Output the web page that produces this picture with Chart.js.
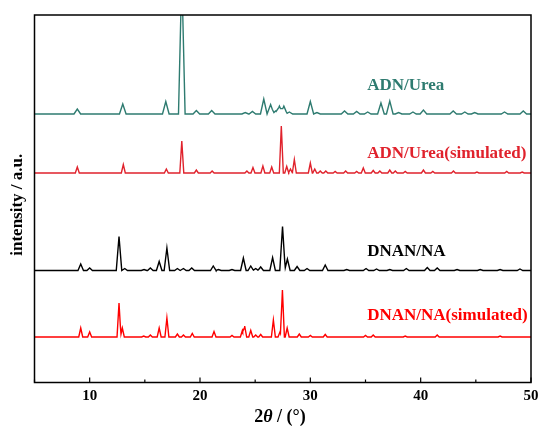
<!DOCTYPE html>
<html>
<head>
<meta charset="utf-8">
<script src="https://cdn.jsdelivr.net/npm/chart.js@4.4.0/dist/chart.umd.min.js"></script>
<style>
  html, body { margin: 0; background: #fff; }
  #wrap { width: 539px; height: 426px; }
</style>
</head>
<body>
<div id="wrap"><canvas id="xrd"></canvas></div>
<script>
const xTicks = [10, 20, 30, 40, 50]
const xMinor = [5, 15, 25, 35, 45]
const seriesNames = ['ADN/Urea', 'ADN/Urea(simulated)', 'DNAN/NA', 'DNAN/NA(simulated)']
const offsets = [268.5, 209.5, 112, 45.5]   // vertical stacking of the patterns

// peak positions (2θ, °) and heights (a.u.)
const adnUreaPos = [8.88, 13.0, 16.9, 18.35, 19.67, 21.06, 24.1, 24.75, 25.78, 26.4, 26.85, 27.2, 27.6, 28.1, 30.0, 30.6, 33.1, 34.2, 35.2, 36.4, 37.2, 38.0, 39.3, 40.25, 42.95, 44.0, 44.9, 47.6, 49.3]
const adnUreaH   = [5, 10, 12.5, 140, 3.5, 3.5, 1.5, 2.5, 15, 9.5, 3, 8, 8, 2, 12.5, 1.5, 3, 2.5, 2, 11, 13, 1.5, 2, 4, 3, 2, 1.5, 2, 3]

const adnSimPos = [8.88, 13.05, 16.95, 18.35, 19.67, 21.1, 24.25, 24.8, 25.7, 26.5, 27.37, 27.86, 28.2, 28.55, 30.0, 30.4, 30.9, 31.4, 32.25, 33.2, 34.2, 34.8, 35.7, 36.3, 37.2, 37.7, 38.6, 40.25, 41.1, 42.97, 45.1, 47.8, 49.2]
const adnSimH   = [6, 8.5, 4, 32, 3, 2, 2, 5.5, 7, 6, 47, 6.5, 4, 13.5, 10, 4, 2, 2, 1.5, 2, 1.5, 5, 2.5, 2, 3, 2, 1.5, 3, 1.5, 2, 1, 1.5, 1]

const dnanPos = [9.19, 10.0, 12.66, 13.18, 14.93, 15.5, 16.3, 17.0, 17.95, 18.5, 19.25, 21.2, 21.67, 22.9, 23.93, 24.6, 25.05, 25.5, 26.58, 27.48, 27.92, 28.8, 29.7, 31.35, 33.3, 35.05, 36.0, 37.2, 38.7, 40.6, 41.5, 43.3, 45.4, 47.2, 49.0]
const dnanH   = [6.5, 2.5, 34, 2, 1, 2.5, 9, 22.5, 2, 2, 2.5, 4.5, 1, 1, 12.5, 4.5, 2, 3.5, 13, 44, 11.5, 4, 2, 5.5, 1, 2, 1.5, 1, 2, 3, 2.5, 1, 1, 1, 1.5]

const dnanSimPos = [9.19, 10.0, 12.66, 12.96, 14.9, 15.5, 16.3, 17.0, 17.95, 18.5, 19.3, 21.27, 22.9, 23.84, 24.05, 24.6, 25.05, 25.5, 26.65, 27.25, 27.47, 27.9, 29.0, 30.0, 31.35, 35.0, 35.7, 38.6, 41.5, 47.2]
const dnanSimH   = [9, 5, 34, 9, 1, 2, 9, 19, 3, 2, 3.5, 5.5, 1.5, 6.5, 11, 6.5, 2, 2.5, 17, 5, 47, 9, 3, 1.5, 2.5, 1.5, 2, 1, 2, 1]

const colors = ['#2e7b70', '#e0222c', '#000000', '#ff0000']
const halfWidths = [0.3, 0.18, 0.25, 0.18]
const serif = "'Liberation Serif', 'Times New Roman', serif"

// builds the polyline of a pattern from its peak list
function pattern(pos, h, w, offset) {
    const xs = [5, 50]
    pos.forEach(p => xs.push(p - w, p, p + w))
    xs.sort((a, b) => a - b)
    return xs.filter(x => x >= 5 && x <= 50).map(x => {
        let y = 0
        pos.forEach((p, i) => {
            const d = Math.abs(x - p)
            if (d < w) y += h[i] * (1 - d / w)
        })
        return { x: x, y: y + offset }
    })
}

const peakSets = [[adnUreaPos, adnUreaH], [adnSimPos, adnSimH], [dnanPos, dnanH], [dnanSimPos, dnanSimH]]
const datasets = peakSets.map((s, i) => ({
    label: seriesNames[i],
    data: pattern(s[0], s[1], halfWidths[i], offsets[i]),
    borderColor: colors[i],
    borderWidth: 1.4,
    pointRadius: 0,
    tension: 0,
    clip: 0
}))

// label anchor: 2θ and height above baseline
const labelX = 35.15
const labelRise = [24, 15.5, 14.5, 17.5]

const decorations = {
    id: 'decorations',
    afterDraw(chart) {
        const c = chart.ctx
        const a = chart.chartArea
        const xs = chart.scales.x
        const ys = chart.scales.y
        c.save()
        c.strokeStyle = '#000'
        c.lineWidth = 1.5
        c.strokeRect(a.left, a.top, a.right - a.left, a.bottom - a.top)
        c.lineWidth = 1.2
        xTicks.forEach(v => {
            const px = xs.getPixelForValue(v)
            c.beginPath(); c.moveTo(px, a.bottom); c.lineTo(px, a.bottom - 5); c.stroke()
        })
        xMinor.forEach(v => {
            const px = xs.getPixelForValue(v)
            c.beginPath(); c.moveTo(px, a.bottom); c.lineTo(px, a.bottom - 3); c.stroke()
        })

        // series labels
        c.font = 'bold 17px ' + serif
        c.textAlign = 'left'
        c.textBaseline = 'alphabetic'
        seriesNames.forEach((n, i) => {
            c.fillStyle = colors[i]
            c.fillText(n, xs.getPixelForValue(labelX), ys.getPixelForValue(offsets[i] + labelRise[i]))
        })

        // y title
        c.fillStyle = '#000'
        c.save()
        c.translate(18, (a.top + a.bottom) / 2 + 6)
        c.rotate(-Math.PI / 2)
        c.textAlign = 'center'
        c.textBaseline = 'middle'
        c.font = 'bold 17px ' + serif
        c.fillText('intensity / a.u.', 0, 0)
        c.restore()

        // x title: "2θ / (°)"
        const p1 = '2', p2 = 'θ', p3 = ' / (°)'
        c.font = 'bold 18px ' + serif
        const w1 = c.measureText(p1).width
        const w3 = c.measureText(p3).width
        c.font = 'italic bold 18px ' + serif
        const w2 = c.measureText(p2).width
        let x0 = 280 - (w1 + w2 + w3) / 2
        const yb = 422
        c.textAlign = 'left'
        c.font = 'bold 18px ' + serif
        c.fillText(p1, x0, yb)
        c.font = 'italic bold 18px ' + serif
        c.fillText(p2, x0 + w1, yb)
        c.font = 'bold 18px ' + serif
        c.fillText(p3, x0 + w1 + w2, yb)
        c.restore()
    }
}

new Chart(document.querySelector('#xrd'), {
    type: 'line',
    data: { datasets: datasets },
    options: {
        responsive: true,
        maintainAspectRatio: false,
        animation: false,
        layout: { padding: { top: 15, right: 8, left: 0, bottom: 0 } },
        plugins: { legend: { display: false }, tooltip: { enabled: false } },
        scales: {
            x: {
                type: 'linear',
                min: 5,
                max: 50,
                afterBuildTicks: axis => { axis.ticks = xTicks.map(v => ({ value: v })) },
                afterFit: axis => { axis.height = 43.5; axis.paddingLeft = 0; axis.paddingRight = 0 },
                grid: { display: false, drawTicks: false },
                border: { display: false },
                ticks: { color: '#000', padding: 5, maxRotation: 0, font: { family: serif, size: 15, weight: 'bold' } }
            },
            y: {
                min: 0,
                max: 367.5,
                afterFit: axis => { axis.width = 34.5; axis.paddingTop = 0; axis.paddingBottom = 0 },
                grid: { display: false, drawTicks: false },
                border: { display: false },
                ticks: { display: false }
            }
        }
    },
    plugins: [decorations]
})
</script>
</body>
</html>
